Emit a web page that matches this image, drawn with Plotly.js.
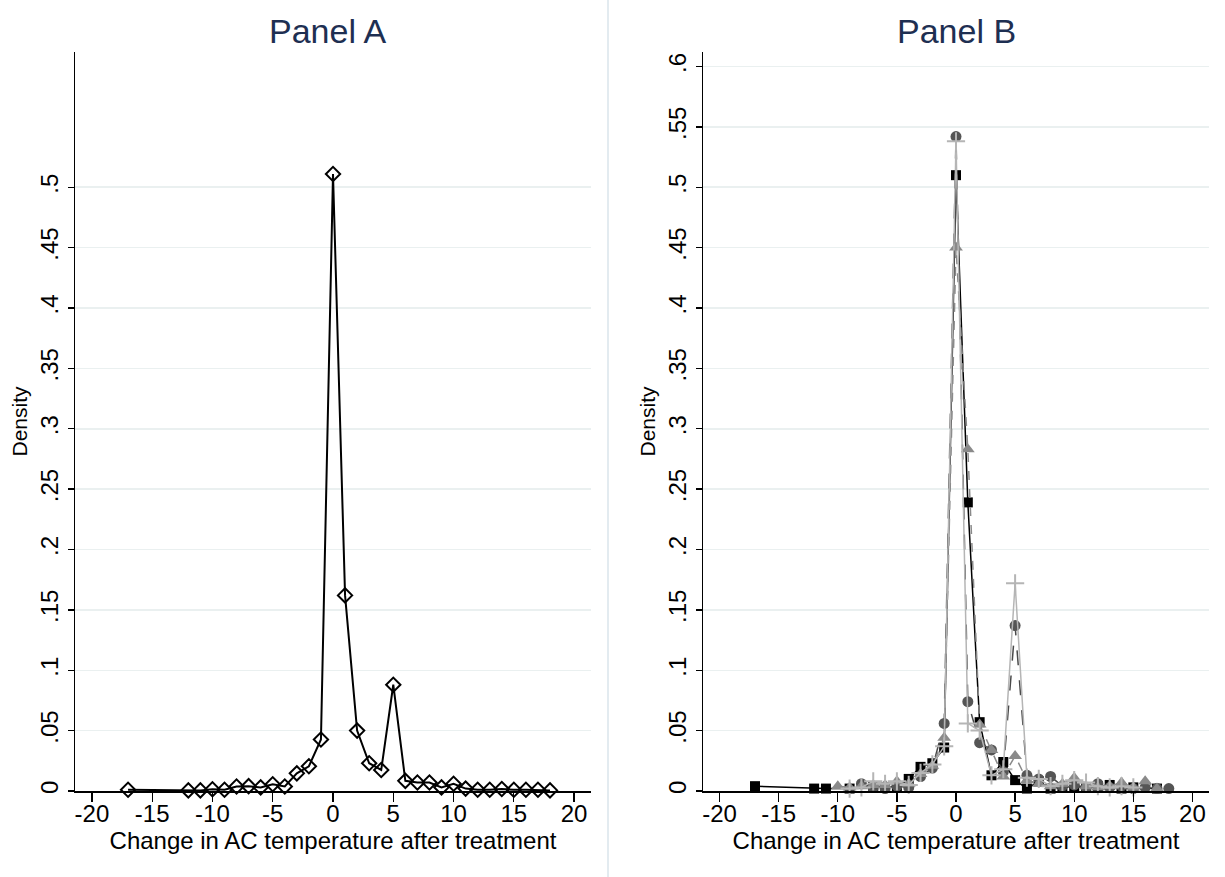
<!DOCTYPE html>
<html>
<head>
<meta charset="utf-8">
<script src="https://cdn.plot.ly/plotly-3.0.1.min.js"></script>
<style>html,body{margin:0;padding:0;background:#fff;}#chart{width:1225px;height:877px;}</style>
</head>
<body>
<div id="chart"></div>
<script>
// ---------- Data ----------
// Panel A
const aX = [-17,-12,-11,-10,-9,-8,-7,-6,-5,-4,-3,-2,-1,0,1,2,3,4,5,6,7,8,9,10,11,12,13,14,15,16,17,18];
const aY = [0.001,0.0005,0.0005,0.0015,0.001,0.0037,0.004,0.003,0.0056,0.0037,0.0146,0.0205,0.0427,0.511,0.162,0.050,0.023,0.0174,0.088,0.0084,0.007,0.007,0.003,0.006,0.002,0.001,0.001,0.0017,0.001,0.001,0.001,0.0005];

// Panel B series
const bSqX = [-17,-12,-11,-9,-7,-6,-5,-4,-3,-2,-1,0,1,2,3,4,5,6,7,8,9,10,11,12,13,14,15,17];
const bSqY = [0.004,0.002,0.002,0.002,0.004,0.003,0.004,0.010,0.020,0.023,0.036,0.510,0.239,0.057,0.013,0.024,0.009,0.002,0.008,0.002,0.003,0.004,0.003,0.004,0.005,0.002,0.003,0.002];

const bCiX = [-8,-7,-6,-5,-4,-3,-2,-1,0,1,2,3,4,5,6,7,8,9,10,11,12,13,14,15,16,17,18];
const bCiY = [0.006,0.003,0.002,0.004,0.003,0.012,0.019,0.056,0.542,0.074,0.040,0.034,0.016,0.137,0.013,0.010,0.012,0.004,0.005,0.003,0.006,0.003,0.004,0.002,0.003,0.002,0.002];

const bTrX = [-10,-9,-8,-7,-6,-5,-4,-3,-2,-1,0,1,2,3,4,5,6,7,8,9,10,11,12,13,14,15,16,17];
const bTrY = [0.004,0.003,0.004,0.005,0.005,0.008,0.006,0.014,0.021,0.044,0.450,0.283,0.055,0.034,0.012,0.029,0.009,0.006,0.004,0.006,0.011,0.004,0.003,0.004,0.007,0.003,0.008,0.002];

const bPlX = [-9,-8,-7,-6,-5,-4,-3,-2,-1,0,1,2,3,4,5,6,7,8,9,10,11,12,13,14,15];
const bPlY = [0.002,0.003,0.008,0.006,0.008,0.005,0.015,0.022,0.037,0.538,0.056,0.050,0.013,0.018,0.172,0.011,0.010,0.004,0.006,0.009,0.007,0.004,0.003,0.004,0.003];

// Tick labels
const xTickVals = [-20,-15,-10,-5,0,5,10,15,20];
const xTickText = ['-20','-15','-10','-5','0','5','10','15','20'];
const yTickValsA = [0,0.05,0.1,0.15,0.2,0.25,0.3,0.35,0.4,0.45,0.5];
const yTickTextA = ['0','.05','.1','.15','.2','.25','.3','.35','.4','.45','.5'];
const yTickValsB = [0,0.05,0.1,0.15,0.2,0.25,0.3,0.35,0.4,0.45,0.5,0.55,0.6];
const yTickTextB = ['0','.05','.1','.15','.2','.25','.3','.35','.4','.45','.5','.55','.6'];

const panelTitles = ['Panel A','Panel B'];
const xTitle = 'Change in AC temperature after treatment';
const yTitle = 'Density';

// ---------- Styling ----------
const FONT = 'Liberation Sans, Arial, sans-serif';
const W = 1225, H = 877;
const domA = [75/W, 591/W];
const domB = [703/W, 1209/W];

const traces = [
  {x:aX, y:aY, xaxis:'x', yaxis:'y', mode:'lines+markers', cliponaxis:false,
   line:{color:'#000', width:2},
   marker:{symbol:'diamond-open', size:11, color:'#000', line:{color:'#000', width:2}}},
  {x:bSqX, y:bSqY, xaxis:'x2', yaxis:'y2', mode:'lines+markers', cliponaxis:false,
   line:{color:'#000', width:1.5},
   marker:{symbol:'square', size:10, color:'#000'}},
  {x:bCiX, y:bCiY, xaxis:'x2', yaxis:'y2', mode:'lines+markers', cliponaxis:false,
   line:{color:'#4a4a4a', width:1.5, dash:'longdash'},
   marker:{symbol:'circle', size:11, color:'#555'}},
  {x:bTrX, y:bTrY, xaxis:'x2', yaxis:'y2', mode:'lines+markers', cliponaxis:false,
   line:{color:'#8a8a8a', width:1.5, dash:'dash'},
   marker:{symbol:'triangle-up', size:12, color:'#8a8a8a'}},
  {x:bPlX, y:bPlY, xaxis:'x2', yaxis:'y2', mode:'lines+markers', cliponaxis:false,
   line:{color:'#b5b5b5', width:1.5},
   marker:{symbol:'cross-thin', size:13, color:'#b5b5b5', line:{color:'#b5b5b5', width:2}}}
];

function xAxis(dom, anchor){
  return {domain:dom, anchor:anchor, range:[-21.4,21.4], showgrid:false, zeroline:false,
    showline:true, linecolor:'#000', linewidth:1.5, ticks:'outside', ticklen:9, tickwidth:1.3, tickcolor:'#000',
    ticklabelstandoff:-8,
    tickvals:xTickVals, ticktext:xTickText, tickfont:{family:FONT, size:24, color:'#000'},
    title:{text:xTitle, font:{family:FONT, size:24, color:'#000'}, standoff:4}};
}
function yAxis(anchor, vals, text){
  return {domain:[0,1], anchor:anchor, range:[0,0.612], showgrid:true, gridcolor:'#eaf0f0', gridwidth:1.5,
    zeroline:false, showline:true, linecolor:'#000', linewidth:1.5, ticks:'outside', ticklen:6, tickwidth:1.3, tickcolor:'#000',
    tickvals:vals, ticktext:text, tickangle:-90, tickfont:{family:FONT, size:24, color:'#000'},
    title:{text:yTitle, font:{family:FONT, size:21, color:'#000'}, standoff:2}};
}

const layout = {
  width:W, height:H, showlegend:false,
  paper_bgcolor:'#fff', plot_bgcolor:'#fff',
  margin:{l:0, r:0, t:52, b:86},
  xaxis:xAxis(domA,'y'), yaxis:yAxis('x', yTickValsA, yTickTextA),
  xaxis2:xAxis(domB,'y2'), yaxis2:yAxis('x2', yTickValsB, yTickTextB),
  annotations:[
    {text:panelTitles[0], xref:'paper', yref:'paper', x:328/W, y:1, xanchor:'center', yanchor:'middle',
     showarrow:false, font:{family:FONT, size:34, color:'#1e2f52'}},
    {text:panelTitles[1], xref:'paper', yref:'paper', x:956/W, y:1, xanchor:'center', yanchor:'middle',
     showarrow:false, font:{family:FONT, size:34, color:'#1e2f52'}}
  ],
  shapes:[
    {type:'line', xref:'paper', yref:'paper', x0:608/W, x1:608/W, y0:0, y1:1, line:{color:'#e3ebf0', width:2}}
  ]
};
// paper y covers only the plot area (t=52, b=86); map pixel rows into it
const plotH = H - 52 - 86;
layout.annotations.forEach(a => { a.y = (H - 86 - 31) / plotH; });
layout.shapes[0].y0 = -86/plotH; layout.shapes[0].y1 = (H-86)/plotH;

Plotly.newPlot('chart', traces, layout, {displayModeBar:false, staticPlot:true});
</script>
</body>
</html>
